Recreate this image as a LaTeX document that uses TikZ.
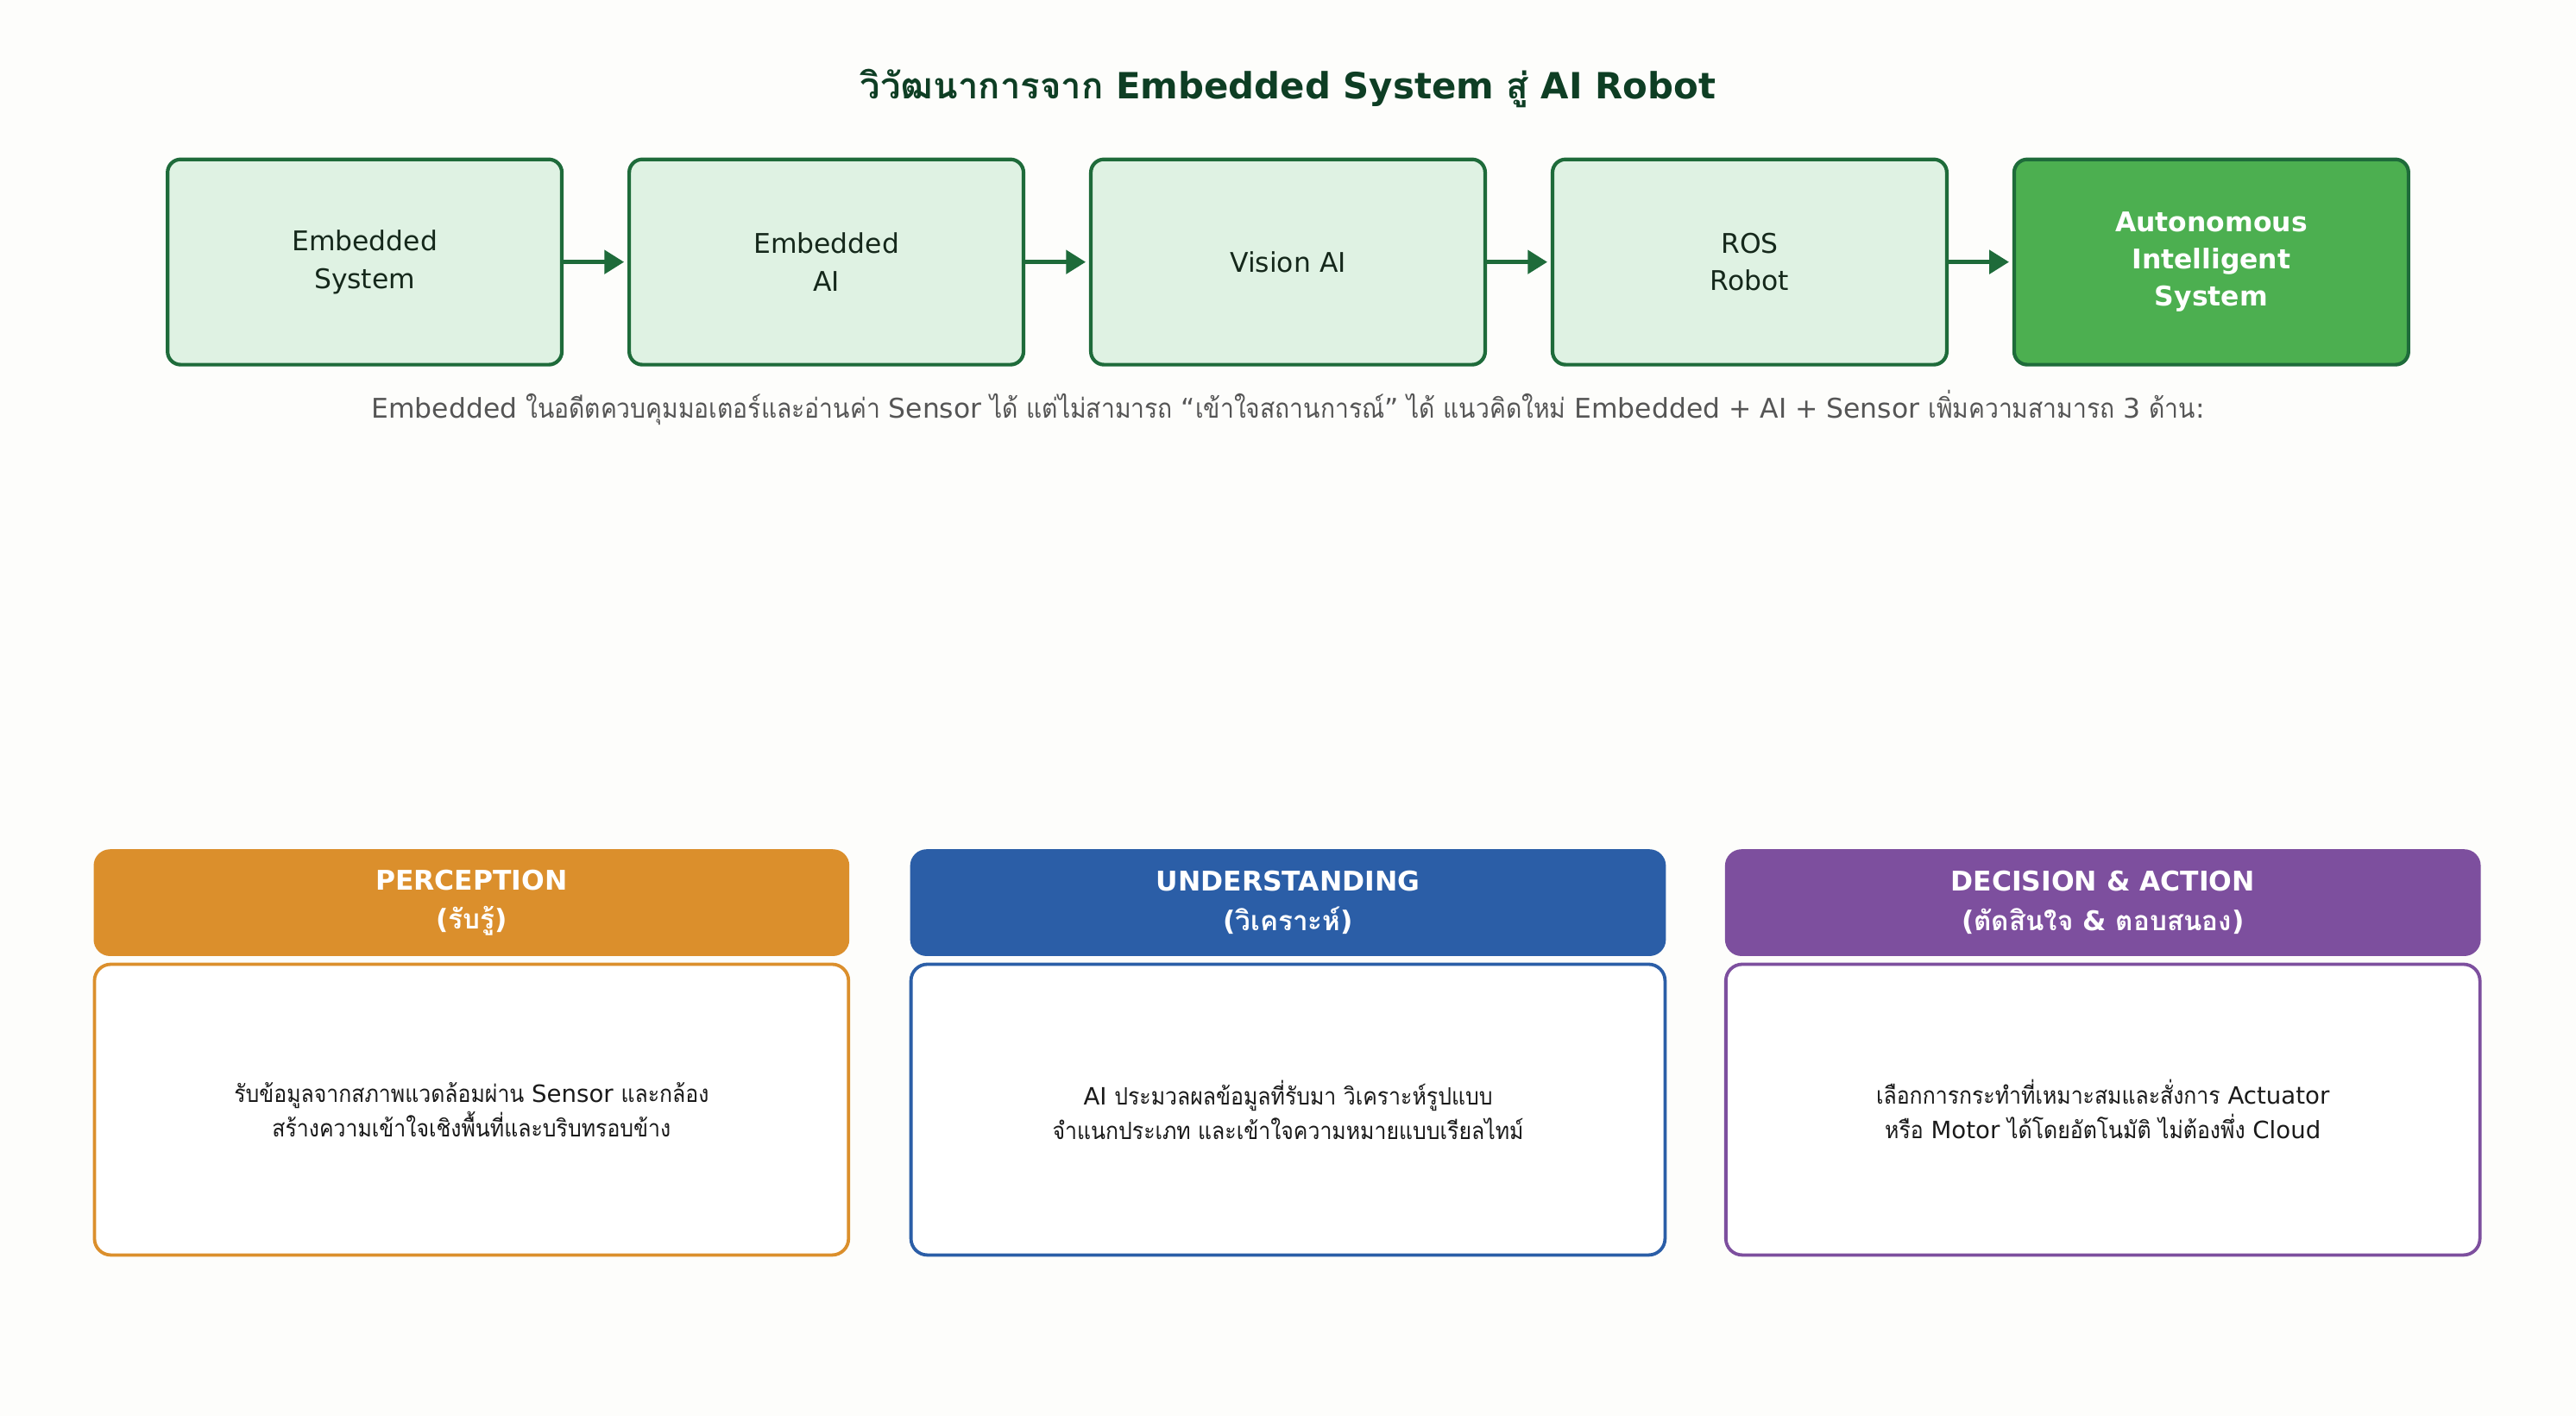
\documentclass[tikz,border=0pt]{standalone}
\usepackage{fontspec}
\setmainfont{DejaVu Sans}
\newfontfamily\thaifont[Script=Thai, UprightFeatures={FakeStretch=0.9}]{Loma}
\newcommand{\thx}[1]{{\thaifont #1}}
\usetikzlibrary{arrows.meta}
\definecolor{bgcol}{HTML}{FDFDFB}
\definecolor{flowline}{HTML}{1E6B3A}
\definecolor{flowfill}{HTML}{DFF2E3}
\definecolor{flowdark}{HTML}{4CAF50}
\definecolor{flowtext}{HTML}{15281B}
\definecolor{titlecol}{HTML}{0E3E24}
\definecolor{desccol}{HTML}{555555}
\definecolor{bodytext}{HTML}{1A1A1A}
\definecolor{orangec}{HTML}{DB8F2C}
\definecolor{bluec}{HTML}{2B5EA7}
\definecolor{purplec}{HTML}{7D4F9E}
\tikzset{
 flow/.style={draw=flowline, line width=2.2pt, fill=flowfill, rounded corners=8pt,
   minimum width=240pt, minimum height=125pt, align=center, inner sep=0pt,
   font=\fontsize{16.5}{23}\selectfont, text=flowtext},
 finalbox/.style={flow, fill=flowdark, text=white, font=\bfseries\fontsize{16.5}{22.5}\selectfont},
 flowarrow/.style={draw=flowline, line width=3pt, -{Triangle[length=12pt,width=14pt]}, shorten >=2pt},
 headbox/.style={rounded corners=10pt, minimum width=460pt, minimum height=65pt, inner sep=0pt,
   text=white, align=center, font=\bfseries\fontsize{16.5}{24}\selectfont},
 bodybox/.style={draw, fill=white, line width=2pt, rounded corners=10pt, minimum width=459pt,
   minimum height=177pt, inner sep=0pt, align=center, text=bodytext, font=\fontsize{14.5}{21}\selectfont},
}
\begin{document}
\begin{tikzpicture}[x=1pt,y=-1pt]
\fill[bgcol] (0,0) rectangle (1568,862);
\useasboundingbox (0,0) rectangle (1568,862);

\node[font=\bfseries\fontsize{22}{26}\selectfont, text=titlecol] (title) at (784,54)
  {\thx{วิวัฒนาการจาก} Embedded System \thx{สู่} AI Robot};

\node[flow] (b1) at (222,159.5) {Embedded\\System};
\node[flow] (b2) at (503,159.5) {Embedded\\AI};
\node[flow] (b3) at (784,159.5) {Vision AI};
\node[flow] (b4) at (1065,159.5) {ROS\\Robot};
\node[finalbox] (b5) at (1346,159.5) {Autonomous\\Intelligent\\System};

\draw[flowarrow] (b1.east) -- (b2.west);
\draw[flowarrow] (b2.east) -- (b3.west);
\draw[flowarrow] (b3.east) -- (b4.west);
\draw[flowarrow] (b4.east) -- (b5.west);

\node[font=\fontsize{16.5}{20}\selectfont, text=desccol] (desc) at (784,248)
  {Embedded \thx{ในอดีตควบคุมมอเตอร์และอ่านค่า} Sensor \thx{ได้ แต่ไม่สามารถ} “\thx{เข้าใจสถานการณ์}” \thx{ได้ แนวคิดใหม่} Embedded + AI + Sensor \thx{เพิ่มความสามารถ} 3 \thx{ด้าน}:};

\node[headbox, fill=orangec] (h1) at (287,549.5) {PERCEPTION\\(\thx{รับรู้})};
\node[headbox, fill=bluec] (h2) at (784,549.5) {UNDERSTANDING\\(\thx{วิเคราะห์})};
\node[headbox, fill=purplec] (h3) at (1280,549.5) {DECISION \& ACTION\\(\thx{ตัดสินใจ} \& \thx{ตอบสนอง})};

\node[bodybox, draw=orangec] (p1) at (287,675.5)
  {\thx{รับข้อมูลจากสภาพแวดล้อมผ่าน} Sensor \thx{และกล้อง}\\\thx{สร้างความเข้าใจเชิงพื้นที่และบริบทรอบข้าง}};
\node[bodybox, draw=bluec] (p2) at (784,675.5)
  {AI \thx{ประมวลผลข้อมูลที่รับมา วิเคราะห์รูปแบบ}\\\thx{จำแนกประเภท และเข้าใจความหมายแบบเรียลไทม์}};
\node[bodybox, draw=purplec] (p3) at (1280,675.5)
  {\thx{เลือกการกระทำที่เหมาะสมและสั่งการ} Actuator\\\thx{หรือ} Motor \thx{ได้โดยอัตโนมัติ ไม่ต้องพึ่ง} Cloud};
\end{tikzpicture}
\end{document}
